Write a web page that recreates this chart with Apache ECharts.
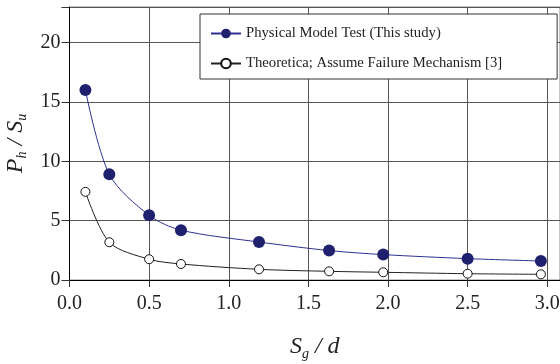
<!DOCTYPE html>
<html>
<head>
<meta charset="utf-8">
<script src="https://cdn.jsdelivr.net/npm/echarts@6/dist/echarts.min.js"></script>
<style>html,body{margin:0;padding:0;background:#fff}#c{width:560px;height:364px}</style>
</head>
<body>
<div id="c"></div>
<script>
const xValues = [0.10, 0.25, 0.50, 0.70, 1.19, 1.63, 1.97, 2.50, 2.96];
const physicalTest = [16.0, 8.9, 5.45, 4.2, 3.2, 2.48, 2.14, 1.8, 1.6];
const theoretical = [7.43, 3.18, 1.75, 1.35, 0.9, 0.73, 0.65, 0.53, 0.48];
const seriesNames = ['Physical Model Test (This study)', 'Theoretica; Assume Failure Mechanism [3]'];

const serif = '"Liberation Serif", "Times New Roman", serif';
const chart = echarts.init(document.getElementById('c'), null, {renderer: 'canvas'});
const pairs = arr => xValues.map((x, i) => [x, arr[i]]);
const nameRich = {
  i: {fontFamily: serif, fontStyle: 'italic', fontSize: 24, color: '#222', lineHeight: 28},
  s: {fontFamily: serif, fontStyle: 'italic', fontSize: 14, color: '#222', lineHeight: 28, verticalAlign: 'bottom', padding: [12, 0, 0, 0]}
};
chart.setOption({
  animation: false,
  backgroundColor: '#fff',
  grid: {left: 69.5, top: 7, right: 0, bottom: 84, show: true, borderColor: '#888', borderWidth: 1,
    containLabel: false, outerBoundsMode: 'none'},
  legend: {
    orient: 'vertical', left: 200, top: 14,
    backgroundColor: '#fff', borderColor: '#333', borderWidth: 1,
    padding: [12, 55, 8, 10], itemGap: 15, itemWidth: 30, itemHeight: 12,
    textStyle: {fontFamily: serif, fontSize: 14.7, lineHeight: 14, color: '#222'},
    data: seriesNames
  },
  xAxis: {
    type: 'value', min: 0, max: 3.08, interval: 0.5,
    name: '{i|S}{s|g}{i| / d}', nameLocation: 'middle', nameGap: 53,
    nameTextStyle: {rich: nameRich},
    axisLine: {show: true, onZero: false, lineStyle: {color: '#000', width: 1}},
    axisTick: {show: true, inside: false, length: 7, lineStyle: {color: '#333'}},
    axisLabel: {fontFamily: serif, fontSize: 20, color: '#222', margin: 14,
      formatter: v => (Math.abs(v * 2 - Math.round(v * 2)) < 1e-9 ? v.toFixed(1) : '')},
    splitLine: {show: true, lineStyle: {color: '#555', width: 1}}
  },
  yAxis: {
    type: 'value', min: 0, max: 23, interval: 5,
    name: '{i|P}{s|h}{i| / S}{s|u}', nameLocation: 'middle', nameGap: 36, nameRotate: 90,
    nameTextStyle: {rich: nameRich},
    axisLine: {show: true, lineStyle: {color: '#000', width: 1}},
    axisTick: {show: true, inside: false, length: 8, lineStyle: {color: '#333'}},
    axisLabel: {fontFamily: serif, fontSize: 20, color: '#222', margin: 9,
      formatter: v => (v % 5 === 0 ? String(v) : '')},
    splitLine: {show: true, lineStyle: {color: '#555', width: 1}}
  },
  series: [
    {
      name: seriesNames[0], type: 'line', data: pairs(physicalTest), smooth: 0.3,
      symbol: 'circle', symbolSize: 12,
      lineStyle: {color: '#2e3192', width: 1},
      itemStyle: {color: '#1f216f', borderColor: '#1f216f', borderWidth: 0}
    },
    {
      name: seriesNames[1], type: 'line', data: pairs(theoretical), smooth: 0.3,
      symbol: 'circle', symbolSize: 9,
      lineStyle: {color: '#222', width: 1},
      itemStyle: {color: '#fff', borderColor: '#111', borderWidth: 1}
    }
  ]
});
</script>
</body>
</html>
